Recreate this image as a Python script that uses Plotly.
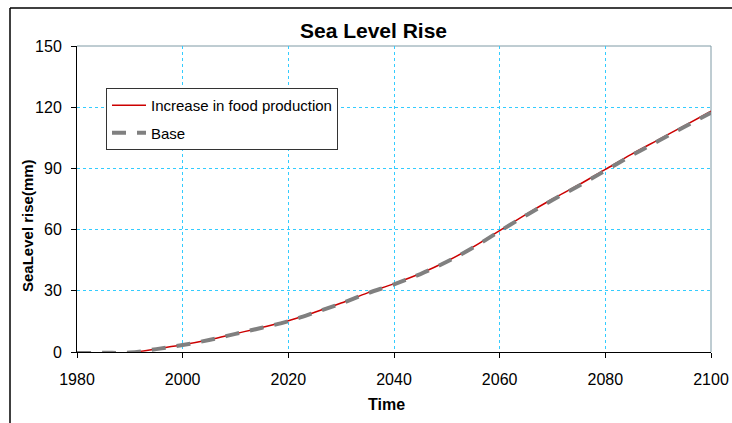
import plotly.graph_objects as go

# Sea level rise projections (mm), 1980-2100
years = [1980, 1985, 1990, 1995, 2000, 2005, 2010, 2015, 2020, 2025, 2030, 2035,
         2040, 2045, 2050, 2055, 2060, 2065, 2070, 2075, 2080, 2085, 2090, 2095, 2100]
food_production = [-0.5, -0.4, -0.2, 1.5, 3.5, 6.0, 9.0, 12.0, 15.3, 19.5, 24.0, 29.0,
                   33.5, 38.5, 44.5, 51.5, 59.5, 67.5, 75.0, 82.0, 89.5, 97.0, 104.0, 111.0, 118.0]
base = [-0.5, -0.4, -0.3, 1.4, 3.4, 5.9, 8.9, 11.9, 15.1, 19.3, 23.8, 28.8,
        33.2, 38.2, 44.2, 51.2, 59.2, 67.0, 74.5, 81.5, 88.9, 96.4, 103.4, 110.4, 117.3]

x_ticks = [1980, 2000, 2020, 2040, 2060, 2080, 2100]
y_ticks = [0, 30, 60, 90, 120, 150]

FONT = "Liberation Sans, Arial, sans-serif"
GRID = "#33ccff"

# Plot area in pixels: x 77..711, y 46..352
PL, PR, PT, PB = 77, 711, 46, 352
PW, PH = PR - PL, PB - PT


def px_x(px):
    return (px - PL) / PW


def px_y(py):
    return (PB - py) / PH


fig = go.Figure()
fig.add_trace(go.Scatter(
    x=years, y=food_production, name="Increase in food production", mode="lines",
    legendgroup="food",
    line=dict(color="#cc0000", width=1.5, shape="spline"),
))
fig.add_trace(go.Scatter(
    x=years, y=base, name="Base", mode="lines",
    legendgroup="base",
    line=dict(color="#808080", width=4, dash="14px,11px", shape="spline"),
))

fig.update_layout(
    width=732, height=423,
    margin=dict(l=PL, r=732 - PR, t=PT, b=423 - PB, autoexpand=False),
    paper_bgcolor="white", plot_bgcolor="white",
    font=dict(family=FONT, size=16, color="black"),
    title=dict(text="<b>Sea Level Rise</b>", x=373.5 / 732, xref="container", xanchor="center",
               y=1 - 31 / 423, yref="container", yanchor="middle",
               font=dict(family=FONT, size=21, color="black")),
    showlegend=True,
    legend=dict(
        x=px_x(106), y=px_y(88), xanchor="left", yanchor="top",
        bgcolor="white", bordercolor="#333333", borderwidth=1,
        font=dict(family=FONT, size=15, color="black"),
        traceorder="grouped", tracegroupgap=5, itemwidth=34,
    ),
)

fig.update_xaxes(
    range=[1980, 2100], tickvals=x_ticks, ticktext=[str(v) for v in x_ticks],
    showline=True, linecolor="black", linewidth=1, mirror=False,
    ticks="outside", ticklen=5, tickcolor="black", automargin=False,
    ticklabelstandoff=8,
    showgrid=True, gridcolor=GRID, gridwidth=1, griddash="dot",
    zeroline=False,
)
fig.update_yaxes(
    range=[0, 150], tickvals=y_ticks, ticktext=[str(v) for v in y_ticks],
    showline=True, linecolor="black", linewidth=1, mirror=False,
    ticks="outside", ticklen=5, tickcolor="black", automargin=False,
    ticklabelstandoff=6,
    showgrid=True, gridcolor=GRID, gridwidth=1, griddash="dot",
    zeroline=False,
)

# Axis titles
fig.add_annotation(text="<b>Time</b>", xref="paper", yref="paper",
                   x=px_x(386), y=px_y(404), xanchor="center", yanchor="middle",
                   showarrow=False, font=dict(family=FONT, size=16, color="black"))
fig.add_annotation(text="<b>SeaLevel rise(mm)</b>", xref="paper", yref="paper",
                   x=px_x(27), y=px_y(226), xanchor="center", yanchor="middle",
                   textangle=-90, showarrow=False,
                   font=dict(family=FONT, size=15, color="black"))

# Plot-area frame on the top and right edges
fig.add_shape(type="line", xref="paper", yref="paper", x0=0, x1=1, y0=1, y1=1,
              line=dict(color="#7f9aa5", width=1), layer="below")
fig.add_shape(type="line", xref="paper", yref="paper", x0=1, x1=1, y0=0, y1=1,
              line=dict(color="#7f9aa5", width=1), layer="below")

# Outer chart border (left and top edges)
fig.add_shape(type="line", xref="paper", yref="paper",
              x0=px_x(10), x1=px_x(740), y0=px_y(8), y1=px_y(8),
              line=dict(color="black", width=1.5))
fig.add_shape(type="line", xref="paper", yref="paper",
              x0=px_x(10), x1=px_x(10), y0=px_y(8), y1=px_y(430),
              line=dict(color="black", width=1.5))

fig.write_html("out.html")
